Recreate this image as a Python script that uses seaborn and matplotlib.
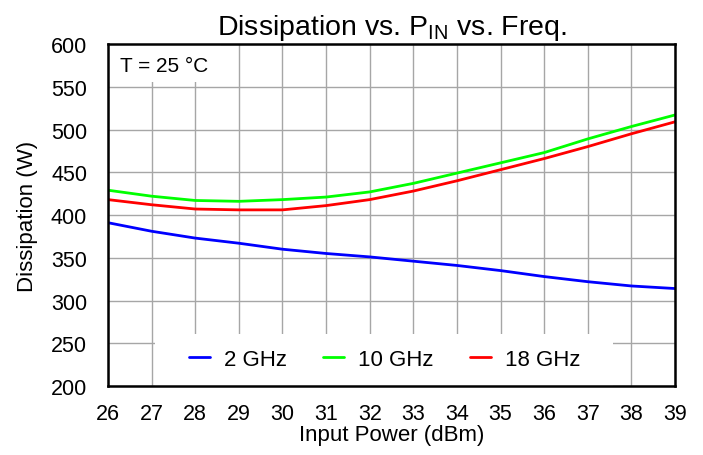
import numpy as np
import pandas as pd
import matplotlib
matplotlib.use("Agg")
import matplotlib.pyplot as plt
from matplotlib.patches import Rectangle
import seaborn as sns

pin = [26, 27, 28, 29, 30, 31, 32, 33, 34, 35, 36, 37, 38, 39]
diss_2ghz = [391, 381, 373, 367, 360, 355, 351, 346, 341, 335, 328, 322, 317, 314]
diss_10ghz = [429, 422, 417, 416, 418, 421, 427, 437, 449, 461, 473, 489, 503.5, 517]
diss_18ghz = [418, 412, 407, 406, 406, 411, 418, 428, 440, 453, 466, 480, 495, 509]
series = ["2 GHz", "10 GHz", "18 GHz"]
colors = ["#0000ff", "#00ff00", "#ff0000"]
xticks = list(range(26, 40))
yticks = list(range(200, 601, 50))

df = pd.concat([
    pd.DataFrame({"Input Power (dBm)": pin, "Dissipation (W)": v, "Freq": s})
    for s, v in zip(series, [diss_2ghz, diss_10ghz, diss_18ghz])
])

sns.set_style("white")
plt.rcParams['font.family'] = ['Liberation Sans', 'DejaVu Sans']
plt.rcParams['mathtext.fontset'] = 'custom'
plt.rcParams['mathtext.rm'] = 'Liberation Sans'
plt.rcParams['mathtext.it'] = 'Liberation Sans'
plt.rcParams['text.color'] = 'black'
plt.rcParams['axes.labelcolor'] = 'black'
plt.rcParams['xtick.color'] = 'black'
plt.rcParams['ytick.color'] = 'black'

fig = plt.figure(figsize=(7.03, 4.56), dpi=100)
ax = fig.add_axes([0.1536, 0.1513, 0.8066, 0.75])

sns.lineplot(data=df, x="Input Power (dBm)", y="Dissipation (W)", hue="Freq",
             palette=dict(zip(series, colors)), linewidth=2.0, ax=ax, zorder=3)

ax.set_xlim(26, 39)
ax.set_ylim(200, 600)
ax.set_xticks(xticks)
ax.set_yticks(yticks)
ax.grid(True, color="#a6a6a6", linewidth=1.0)
ax.set_axisbelow(True)
for sp in ax.spines.values():
    sp.set_color("black")
    sp.set_linewidth(1.8)
    sp.set_zorder(5)
ax.tick_params(axis="x", length=0, labelsize=15.5, pad=12.5, labelcolor="black")
ax.tick_params(axis="y", length=0, labelsize=15.5, pad=15, labelcolor="black")
ax.set_xlabel("Input Power (dBm)", fontsize=16, labelpad=0, color="black")
ax.set_ylabel("Dissipation (W)", fontsize=16, labelpad=9, color="black")
ax.set_title(r"Dissipation vs. P$_{\rm IN}$ vs. Freq.", fontsize=20.5, pad=7,
             color="black")

# white backgrounds behind annotation and legend
ax.add_patch(Rectangle((0, 0.8875), 0.2, 0.1125, transform=ax.transAxes,
                       facecolor="white", edgecolor="none", zorder=1.5))
ax.add_patch(Rectangle((0.083, 0), 0.807, 0.151, transform=ax.transAxes,
                       facecolor="white", edgecolor="none", zorder=1.5))

ax.text(0.022, 0.937, "T = 25 °C", transform=ax.transAxes, fontsize=15,
        va="center", ha="left", zorder=4, color="black")

leg = ax.legend(loc="center", bbox_to_anchor=(0.488, 0.078), ncol=3,
                frameon=False, fontsize=16, handlelength=0.95,
                columnspacing=1.62, handletextpad=0.63, borderpad=0)
for t in leg.get_texts():
    t.set_color("black")
for h in leg.legend_handles:
    h.set_linewidth(2.0)

fig.savefig("out.png", dpi=100)
